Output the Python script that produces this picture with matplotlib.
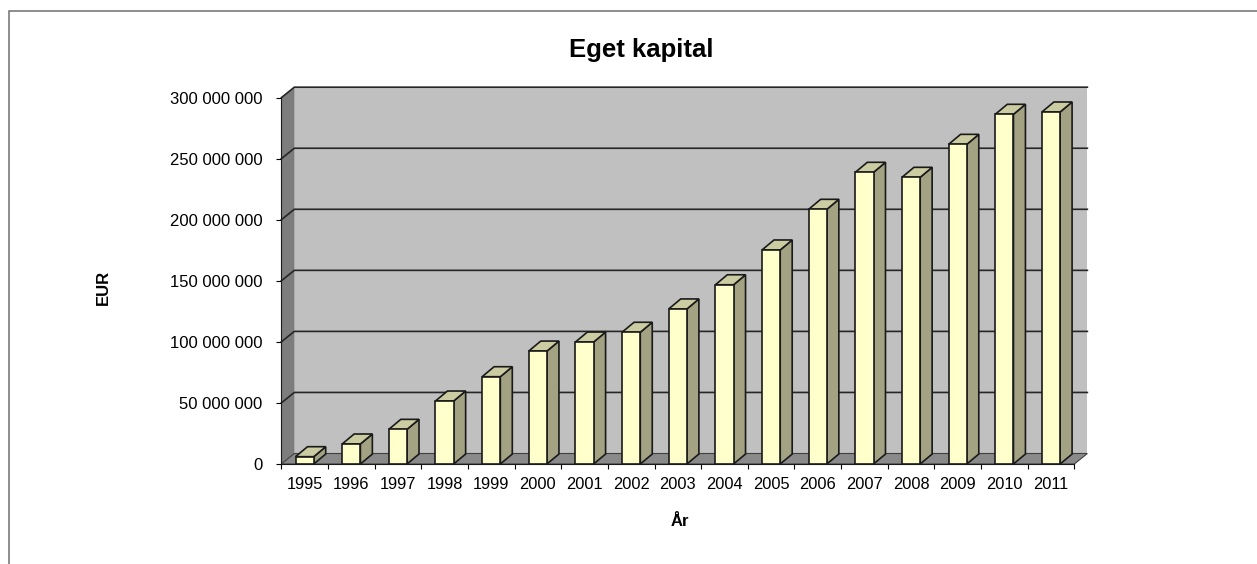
import matplotlib.pyplot as plt
from matplotlib.patches import Polygon, Rectangle
from matplotlib.ticker import FixedLocator, FuncFormatter

plt.rcParams['font.family'] = ['Liberation Sans', 'DejaVu Sans']

# data (EUR)
years = ['1995', '1996', '1997', '1998', '1999', '2000', '2001', '2002', '2003',
         '2004', '2005', '2006', '2007', '2008', '2009', '2010', '2011']
equity = [6.0e6, 16.4e6, 28.4e6, 51.6e6, 71.5e6, 92.5e6, 99.9e6, 107.9e6, 127.0e6,
          146.8e6, 175.3e6, 208.6e6, 238.9e6, 234.8e6, 261.8e6, 286.4e6, 288.3e6]
y_ticks = [0, 50e6, 100e6, 150e6, 200e6, 250e6, 300e6]

front_col = '#ffffcc'
top_col = '#cccca3'
side_col = '#a3a383'
edge_col = '#1a1a1a'

fig = plt.figure(figsize=(12.57, 5.64), dpi=100)
ax = fig.add_axes([0.2238, 0.1773, 0.6309, 0.6495])
x0, x1 = -0.5, len(years) - 0.5
ymax = y_ticks[-1]
ax.set_xlim(x0, x1)
ax.set_ylim(0, ymax)
ax.patch.set_visible(False)

# depth of the pseudo 3D box, given in pixels and turned into data units
bbox = ax.get_window_extent()
dx = 13 / bbox.width * (x1 - x0)
dy = 10.5 / bbox.height * ymax

# walls and floor
ax.add_patch(Polygon([(x0 + dx, dy), (x1 + dx, dy), (x1 + dx, ymax + dy), (x0 + dx, ymax + dy)],
                     closed=True, fc='#c0c0c0', ec='none', zorder=0, clip_on=False))
ax.add_patch(Polygon([(x0, 0), (x0 + dx, dy), (x0 + dx, ymax + dy), (x0, ymax)],
                     closed=True, fc='#7d7d7d', ec='none', zorder=0, clip_on=False))
ax.add_patch(Polygon([(x0, 0), (x1, 0), (x1 + dx, dy), (x0 + dx, dy)],
                     closed=True, fc='#8a8a8a', ec='#404040', lw=0.8, zorder=1, clip_on=False))

# gridlines across left wall and back wall
for t in y_ticks[1:]:
    ax.plot([x0, x0 + dx, x1 + dx], [t, t + dy, t + dy], color='#262626', lw=1.2,
            zorder=1, clip_on=False, solid_joinstyle='miter')

# bars: side, top, front
w = 0.39
bdx, bdy = dx * 0.92, dy * 0.95
for i, v in enumerate(equity):
    left, right = i - w / 2, i + w / 2
    ax.add_patch(Polygon([(right, 0), (right + bdx, bdy), (right + bdx, v + bdy), (right, v)],
                         closed=True, fc=side_col, ec=edge_col, lw=1.2, zorder=3, clip_on=False))
    ax.add_patch(Polygon([(left, v), (right, v), (right + bdx, v + bdy), (left + bdx, v + bdy)],
                         closed=True, fc=top_col, ec=edge_col, lw=1.2, zorder=3, clip_on=False))
ax.bar(range(len(years)), equity, width=w, color=front_col, edgecolor=edge_col,
       linewidth=1.2, zorder=4, clip_on=False)

# axes
for s in ['top', 'right']:
    ax.spines[s].set_visible(False)
ax.spines['left'].set_color('#1a1a1a')
ax.spines['bottom'].set_color('#1a1a1a')
ax.spines['left'].set_zorder(5)

ax.set_yticks(y_ticks)
ax.yaxis.set_major_formatter(FuncFormatter(lambda v, p: f"{int(v):,}".replace(",", " ")))
ax.tick_params(axis='y', length=3.6, width=0.8, pad=10, labelsize=12)

ax.xaxis.set_major_locator(FixedLocator([k - 0.5 for k in range(len(years) + 1)]))
ax.xaxis.set_major_formatter(FuncFormatter(lambda v, p: ''))
ax.xaxis.set_minor_locator(FixedLocator(list(range(len(years)))))
ax.set_xticklabels(years, minor=True)
ax.tick_params(axis='x', which='major', length=3.6, width=0.8)
ax.tick_params(axis='x', which='minor', length=0, pad=9, labelsize=11.8)

fig.text(641 / 1257, 1 - 50 / 564, 'Eget kapital', ha='center', va='center',
         fontsize=18.5, fontweight='bold')
fig.text(103 / 1257, 1 - 287 / 564, 'EUR', ha='center', va='center', rotation=90,
         fontsize=12, fontweight='bold')
fig.text(680 / 1257, 1 - 521 / 564, 'År', ha='center', va='center',
         fontsize=12, fontweight='bold')

# chart area frame (cut off at right and bottom in the reference)
fig.patches.append(Rectangle((9 / 1257, -0.2), 1.2, (564 - 11) / 564 + 0.2,
                             transform=fig.transFigure, fill=False, ec='#6f6f6f', lw=1.1))

fig.savefig('out.png', dpi=100)
